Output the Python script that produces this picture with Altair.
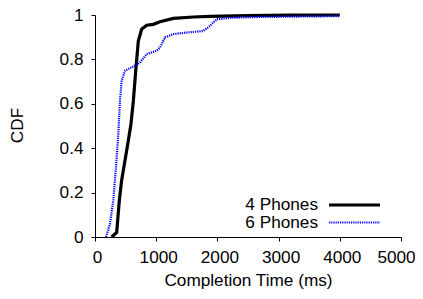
import altair as alt
import pandas as pd

# 4 Phones series (completion time ms, CDF)
t4 = [272, 354, 398, 435, 490, 545, 588, 627, 670, 708, 762, 844, 953, 1062, 1280, 1607, 1879, 2500, 3200, 4000]
c4 = [0.0, 0.02, 0.166, 0.255, 0.345, 0.435, 0.51, 0.614, 0.764, 0.883, 0.936, 0.954, 0.958, 0.97, 0.985, 0.991, 0.994, 0.997, 0.999, 1.0]

# 6 Phones series
t6 = [180, 245, 299, 343, 381, 408, 436, 490, 599, 735, 844, 1008, 1062, 1144, 1280, 1498, 1770, 1879, 1988, 2260, 2696, 3300, 4000]
c6 = [0.0, 0.06, 0.166, 0.315, 0.465, 0.614, 0.704, 0.749, 0.764, 0.786, 0.824, 0.839, 0.854, 0.899, 0.914, 0.921, 0.928, 0.951, 0.981, 0.988, 0.991, 0.993, 0.995]

series_names = ["4 Phones", "6 Phones"]
x_ticks = [0, 1000, 2000, 3000, 4000, 5000]
y_ticks = [0, 0.2, 0.4, 0.6, 0.8, 1.0]

df = pd.concat([
    pd.DataFrame({"t": t4, "cdf": c4, "series": series_names[0], "ord": range(len(t4))}),
    pd.DataFrame({"t": t6, "cdf": c6, "series": series_names[1], "ord": range(len(t6))}),
])

FONT = "Liberation Sans"
FS = 17.2

x = alt.X("t:Q", title="Completion Time (ms)",
          scale=alt.Scale(domain=[0, 5000], nice=False),
          axis=alt.Axis(values=x_ticks, format="d", grid=False, tickSize=4,
                        labelPadding=7, labelFlush=False, labelOverlap=False,
                        labelOffset={"condition": {"test": "datum.value == 5000", "value": -5}, "value": 2},
                        titleY=48.5, titleBaseline="alphabetic",
                        labelFont=FONT, titleFont=FONT, labelFontSize=FS, titleFontSize=FS,
                        titleFontWeight="normal"))
y = alt.Y("cdf:Q", title="CDF",
          scale=alt.Scale(domain=[0, 1], nice=False),
          axis=alt.Axis(values=y_ticks, format=".1~f", grid=False, tickSize=4,
                        labelPadding=8, labelFlush=False, labelOverlap=False,
                        titleX=-78, titleY=110,
                        titleAlign="center", titleBaseline="middle", titleAngle=270,
                        labelFont=FONT, titleFont=FONT, labelFontSize=FS, titleFontSize=FS,
                        titleFontWeight="normal"))

base = alt.Chart(df)

line4 = base.transform_filter(alt.datum.series == series_names[0]).mark_line(
    color="black", strokeWidth=3.2).encode(x=x, y=y, order="ord:Q")
line6 = base.transform_filter(alt.datum.series == series_names[1]).mark_line(
    color="#0000ff", strokeWidth=2.2, strokeDash=[1.2, 1]).encode(x=x, y=y, order="ord:Q")

leg_text4 = alt.Chart(pd.DataFrame({"s": [series_names[0]]})).mark_text(
    align="right", baseline="middle", font=FONT, fontSize=FS, color="black").encode(
    text="s:N", x=alt.value(223), y=alt.value(190))
leg_text6 = alt.Chart(pd.DataFrame({"s": [series_names[1]]})).mark_text(
    align="right", baseline="middle", font=FONT, fontSize=FS, color="black").encode(
    text="s:N", x=alt.value(223), y=alt.value(207.5))
leg_line4 = alt.Chart(pd.DataFrame({"s": [0]})).mark_rule(color="black", strokeWidth=3.2).encode(
    x=alt.value(234), x2=alt.value(285), y=alt.value(190))
leg_line6 = alt.Chart(pd.DataFrame({"s": [0]})).mark_rule(color="#0000ff", strokeWidth=2.2, strokeDash=[1.2, 1]).encode(
    x=alt.value(234), x2=alt.value(285), y=alt.value(207.5))

chart = alt.layer(line4, line6, leg_line4, leg_line6, leg_text4, leg_text6).properties(
    width=306, height=222,
    background="white",
    autosize=alt.AutoSizeParams(type="none"),
    padding={"left": 87, "top": 7, "right": 14, "bottom": 60},
).configure_view(stroke=None).configure_axis(
    domainColor="black", tickColor="black", labelColor="black", titleColor="black",
    domainWidth=1, tickWidth=1,
)

chart.save("out.html", embed_options={"renderer": "svg", "actions": False})
